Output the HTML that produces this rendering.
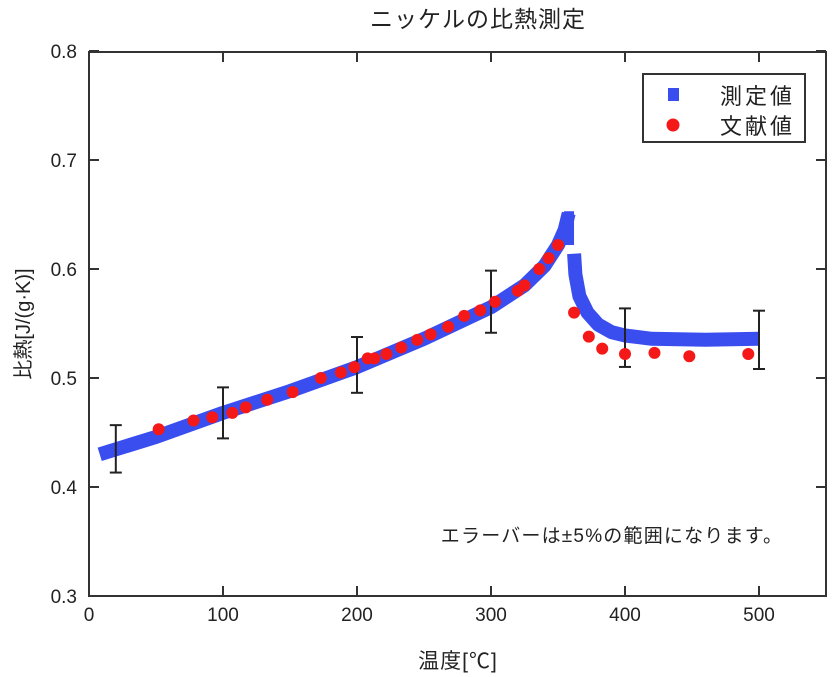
<!DOCTYPE html>
<html><head><meta charset="utf-8"><style>
html,body{margin:0;padding:0;background:#fff}
svg{display:block}
text{font-family:"Liberation Sans","Noto Sans CJK JP",sans-serif;fill:#222}
</style></head><body>
<svg id="s" width="840" height="677" viewBox="0 0 840 677" xmlns="http://www.w3.org/2000/svg">
<text x="478" y="27" font-size="23" text-anchor="middle" letter-spacing="1">ニッケルの比熱測定</text>
<g id="ticks"></g>
<g id="data"></g>
<rect x="89" y="52" width="737" height="544" fill="none" stroke="#333" stroke-width="2"/>
<rect x="643" y="74" width="162" height="68" fill="#fff" stroke="#333" stroke-width="2"/>
<rect x="668" y="88" width="11" height="13" fill="#3a4ef0"/>
<circle cx="673" cy="125" r="6.5" fill="#f51818"/>
<text x="795" y="104" font-size="22" text-anchor="end" letter-spacing="3">測定値</text>
<text x="795" y="134" font-size="22" text-anchor="end" letter-spacing="3">文献値</text>
<text x="612" y="542" font-size="19" text-anchor="middle" letter-spacing="1.2">エラーバーは±5%の範囲になります。</text>
<text x="458" y="668" font-size="21" text-anchor="middle" letter-spacing="1">温度[℃]</text>
<text transform="translate(30,324) rotate(-90)" font-size="20" text-anchor="middle">比熱[J/(g·K)]</text>
</svg>
<script>
const X=t=>89+t*1.34, Y=v=>596-(v-0.3)*1090;
const ns="http://www.w3.org/2000/svg";
function el(p,n,a,txt){const e=document.createElementNS(ns,n);for(const k in a)e.setAttribute(k,a[k]);if(txt!==undefined)e.textContent=txt;document.getElementById(p).appendChild(e);return e;}
for(let t=0;t<=500;t+=100){const x=X(t);
 if(t>0){el("ticks","line",{x1:x,y1:596,x2:x,y2:586,stroke:"#333","stroke-width":2});el("ticks","line",{x1:x,y1:52,x2:x,y2:62,stroke:"#333","stroke-width":2});}
 el("ticks","text",{x:x,y:621,"font-size":19,"text-anchor":"middle"},String(t));}
for(let i=3;i<=8;i++){const v=i/10,y=Y(v);
 el("ticks","line",{x1:89,y1:y,x2:99,y2:y,stroke:"#333","stroke-width":2});el("ticks","line",{x1:816,y1:y,x2:826,y2:y,stroke:"#333","stroke-width":2});
 el("ticks","text",{x:77,y:y+7,"font-size":19,"text-anchor":"end"},v.toFixed(1));}
const A=[[8,0.430],[50,0.446],[100,0.468],[150,0.488],[200,0.510],[250,0.536],[300,0.565],[325,0.585],[340,0.603],[350,0.622],[355,0.636],[358,0.651]];
let p=A.map(a=>X(a[0]).toFixed(1)+","+Y(a[1]).toFixed(1)).join(" ");
el("data","polyline",{points:p,fill:"none",stroke:"#3a4ef0","stroke-width":14,"stroke-linejoin":"round"});
el("data","rect",{x:X(354.5),y:Y(0.653),width:10,height:Y(0.622)-Y(0.653),fill:"#3a4ef0"});
const B=[[362,0.614],[363,0.595],[366,0.575],[372,0.56],[380,0.549],[390,0.542],[400,0.539],[420,0.536],[460,0.535],[500,0.536]];
p=B.map(a=>X(a[0]).toFixed(1)+","+Y(a[1]).toFixed(1)).join(" ");
el("data","polyline",{points:p,fill:"none",stroke:"#3a4ef0","stroke-width":14,"stroke-linejoin":"round"});
[[20,0.435],[100,0.468],[200,0.512],[300,0.570],[400,0.537],[500,0.535]].forEach(([t,v])=>{
 const x=X(t),y1=Y(v*1.05),y2=Y(v*0.95);
 el("data","line",{x1:x,y1:y1,x2:x,y2:y2,stroke:"#222","stroke-width":2});
 el("data","line",{x1:x-6,y1:y1,x2:x+6,y2:y1,stroke:"#222","stroke-width":2});
 el("data","line",{x1:x-6,y1:y2,x2:x+6,y2:y2,stroke:"#222","stroke-width":2});});
[[52,0.453],[78,0.461],[92,0.464],[107,0.468],[117,0.473],[133,0.48],[152,0.487],[173,0.5],[188,0.505],[198,0.51],[208,0.518],[213,0.518],[222,0.522],[233,0.528],[245,0.535],[255,0.54],[268,0.547],[280,0.557],[292,0.562],[303,0.57],[320,0.58],[325,0.585],[336,0.6],[343,0.61],[350,0.622],[362,0.56],[373,0.538],[383,0.527],[400,0.522],[422,0.523],[448,0.52],[492,0.522]].forEach(([t,v])=>el("data","circle",{cx:X(t),cy:Y(v),r:6,fill:"#f51818"}));
</script>
</body></html>
